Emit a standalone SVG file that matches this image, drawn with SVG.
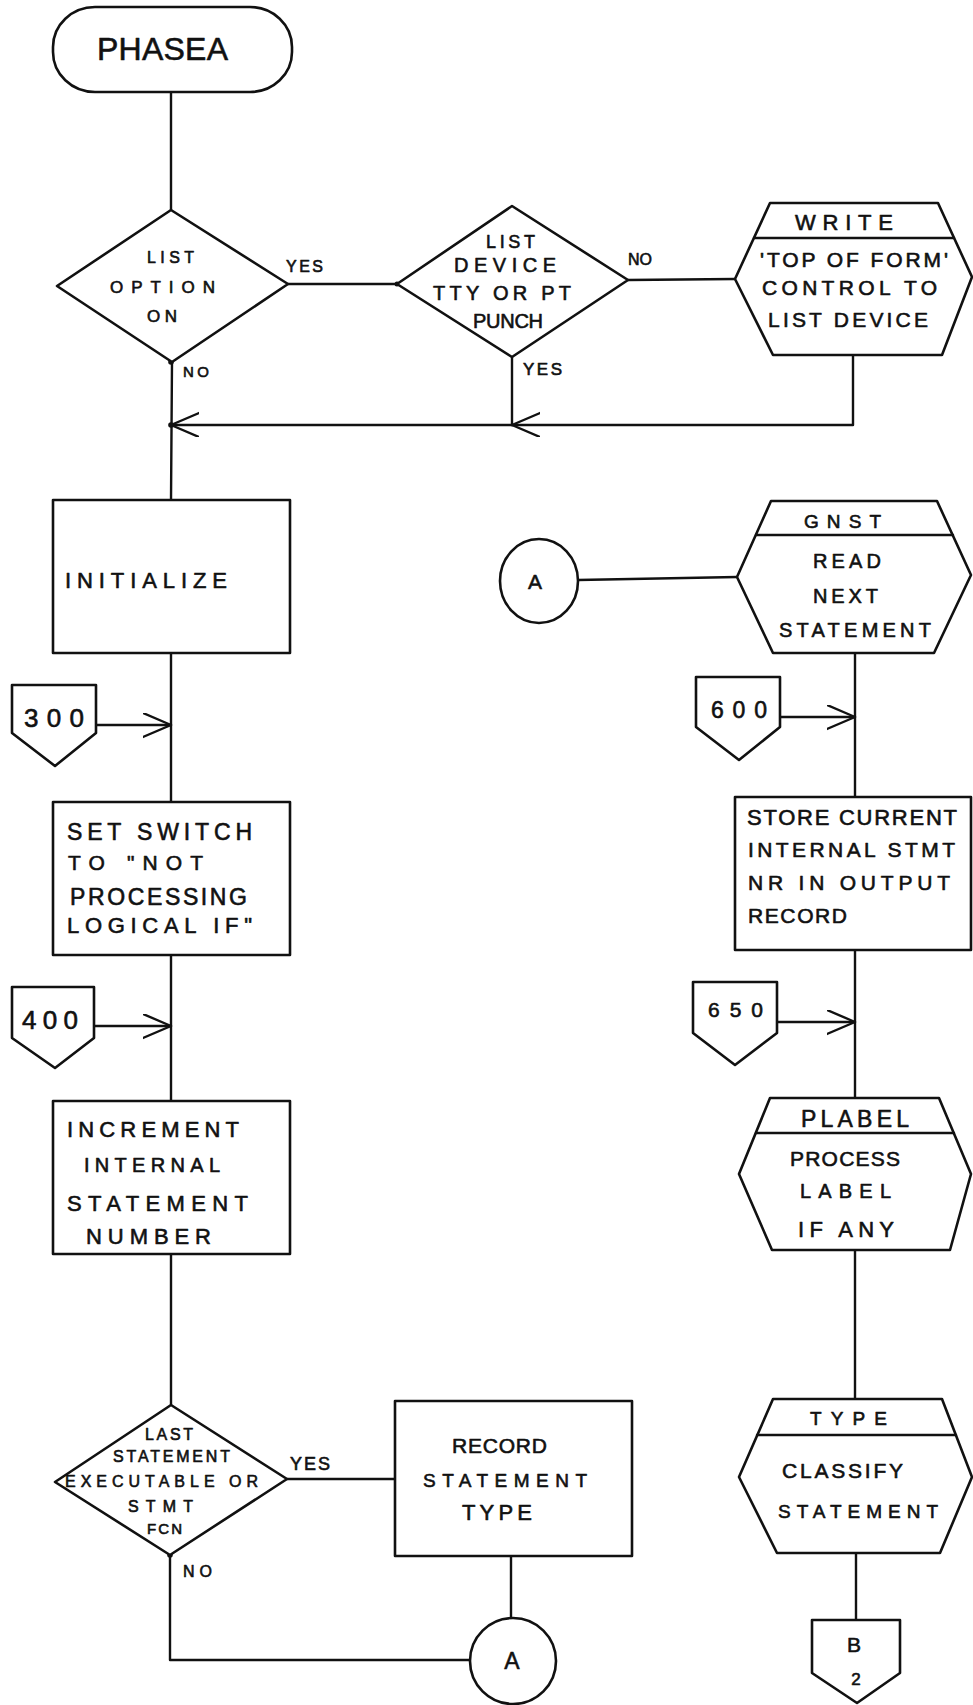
<svg xmlns="http://www.w3.org/2000/svg" width="973" height="1705" viewBox="0 0 973 1705">
  <style>
    .s { fill: #fff; stroke: #111; stroke-width: 2.6; stroke-linejoin: round; }
    .c { fill: none; stroke: #111; stroke-width: 2.4; stroke-linecap: round; stroke-linejoin: round; }
    .t { font-family: "Liberation Sans", Arial, sans-serif; fill: #111; stroke: #111; stroke-width: 0.6; stroke-linejoin: round; }
    .m { text-anchor: middle; }
    .dot { fill: #111; }
  </style>
  <defs>
    <!-- open chevron arrowhead used on every flow arrow -->
    <marker id="chev" markerUnits="userSpaceOnUse" markerWidth="32" markerHeight="28" refX="28" refY="12" orient="auto">
      <path d="M0,0 L28,12 L0,24" fill="none" stroke="#111" stroke-width="2.4" stroke-linecap="round" stroke-linejoin="round"/>
    </marker>
  </defs>

  <rect width="973" height="1705" fill="#fff"/>

  <!-- connectors -->
  <g id="connectors">
    <path class="c" d="M171,92 L171,210"/>
    <path class="c" d="M288,284 L397,284"/>
    <path class="c" d="M628,280 L735,279"/>
    <path class="c" d="M853,355 L853,425 L512,425" marker-end="url(#chev)"/>
    <path class="c" d="M512,357 L512,425"/>
    <path class="c" d="M512,425 L171,425" marker-end="url(#chev)"/>
    <path class="c" d="M172,362 L171,500"/>
    <path class="c" d="M171,653 L171,802"/>
    <path class="c" d="M171,955 L171,1101"/>
    <path class="c" d="M171,1254 L171,1405"/>
    <path class="c" d="M170,1555 L170,1660 L470,1660"/>
    <path class="c" d="M287,1479 L395,1479"/>
    <path class="c" d="M511,1556 L511,1618"/>
    <path class="c" d="M578,580 L737,577"/>
    <path class="c" d="M855,653 L855,797"/>
    <path class="c" d="M855,950 L855,1098"/>
    <path class="c" d="M855,1250 L855,1399"/>
    <path class="c" d="M856,1553 L856,1620"/>
    <path class="c" d="M96,725 L171,725" marker-end="url(#chev)"/>
    <path class="c" d="M94,1026 L171,1026" marker-end="url(#chev)"/>
    <path class="c" d="M780,717 L855,717" marker-end="url(#chev)"/>
    <path class="c" d="M777,1022 L855,1022" marker-end="url(#chev)"/>
    <circle class="dot" cx="171" cy="362" r="2.8"/>
    <circle class="dot" cx="171" cy="425" r="2.8"/>
    <circle class="dot" cx="397" cy="284" r="2.5"/>
    <circle class="dot" cx="170" cy="1555" r="2.8"/>
    <text class="t" x="286" y="272" font-size="16" textLength="37" lengthAdjust="spacing">YES</text>
    <text class="t" x="183" y="377" font-size="15" textLength="26" lengthAdjust="spacing">NO</text>
    <text class="t" x="628" y="265" font-size="16" textLength="24" lengthAdjust="spacing">NO</text>
    <text class="t" x="523" y="375" font-size="17" textLength="39" lengthAdjust="spacing">YES</text>
    <text class="t" x="290" y="1470" font-size="18" textLength="40" lengthAdjust="spacing">YES</text>
    <text class="t" x="183" y="1577" font-size="16" textLength="29" lengthAdjust="spacing">NO</text>
  </g>

  <!-- start terminal -->
  <g id="phasea">
    <rect class="s" x="53" y="7" width="239" height="85" rx="42" ry="40"/>
    <text class="t" x="97" y="60" font-size="32" textLength="131" lengthAdjust="spacing">PHASEA</text>
  </g>

  <g id="list-option">
    <polygon class="s" points="171,210 288,284 172,362 57,286"/>
    <text class="t" x="147" y="263" font-size="16" textLength="47" lengthAdjust="spacing">LIST</text>
    <text class="t" x="110" y="293" font-size="17" textLength="105" lengthAdjust="spacing">OPTION</text>
    <text class="t" x="147" y="322" font-size="17" textLength="30" lengthAdjust="spacing">ON</text>
  </g>

  <g id="list-device">
    <polygon class="s" points="512,206 628,280 512,357 397,284"/>
    <text class="t" x="486" y="248" font-size="18" textLength="49" lengthAdjust="spacing">LIST</text>
    <text class="t" x="454" y="272" font-size="20" textLength="102" lengthAdjust="spacing">DEVICE</text>
    <text class="t" x="433" y="300" font-size="20" textLength="138" lengthAdjust="spacing">TTY OR PT</text>
    <text class="t" x="473" y="328" font-size="20" textLength="70" lengthAdjust="spacing">PUNCH</text>
  </g>

  <g id="write">
    <polygon class="s" points="770,203 938,203 972,277 942,355 773,355 735,279"/>
    <line class="c" x1="754" y1="238" x2="954" y2="238"/>
    <text class="t" x="795" y="230" font-size="22" textLength="98" lengthAdjust="spacing">WRITE</text>
    <text class="t" x="760" y="267" font-size="21" textLength="188" lengthAdjust="spacing">'TOP OF FORM'</text>
    <text class="t" x="762" y="295" font-size="21" textLength="175" lengthAdjust="spacing">CONTROL TO</text>
    <text class="t" x="768" y="327" font-size="21" textLength="160" lengthAdjust="spacing">LIST DEVICE</text>
  </g>

  <g id="initialize">
    <rect class="s" x="53" y="500" width="237" height="153"/>
    <text class="t" x="65" y="588" font-size="22" textLength="162" lengthAdjust="spacing">INITIALIZE</text>
  </g>

  <g id="conn-a-in">
    <ellipse class="s" cx="539" cy="581" rx="39" ry="42"/>
    <text class="t m" x="535" y="589" font-size="21">A</text>
  </g>

  <g id="gnst">
    <polygon class="s" points="771,501 937,501 971,575 934,653 773,653 737,577"/>
    <line class="c" x1="756" y1="535" x2="953" y2="535"/>
    <text class="t" x="804" y="528" font-size="19" textLength="77" lengthAdjust="spacing">GNST</text>
    <text class="t" x="813" y="568" font-size="20" textLength="68" lengthAdjust="spacing">READ</text>
    <text class="t" x="813" y="603" font-size="20" textLength="65" lengthAdjust="spacing">NEXT</text>
    <text class="t" x="779" y="637" font-size="20" textLength="152" lengthAdjust="spacing">STATEMENT</text>
  </g>

  <g id="entry-300">
    <polygon class="s" points="12,685 96,685 96,733 55,766 12,733"/>
    <text class="t" x="24" y="727" font-size="26" textLength="60" lengthAdjust="spacing">300</text>
  </g>

  <g id="entry-600">
    <polygon class="s" points="696,677 780,677 780,727 739,760 696,727"/>
    <text class="t" x="711" y="718" font-size="23" textLength="56" lengthAdjust="spacing">600</text>
  </g>

  <g id="set-switch">
    <rect class="s" x="53" y="802" width="237" height="153"/>
    <text class="t" x="67" y="840" font-size="23" textLength="185" lengthAdjust="spacing">SET SWITCH</text>
    <text class="t" x="68" y="870" font-size="21" textLength="135" lengthAdjust="spacing">TO "NOT</text>
    <text class="t" x="70" y="905" font-size="23" textLength="177" lengthAdjust="spacing">PROCESSING</text>
    <text class="t" x="67" y="933" font-size="22" textLength="185" lengthAdjust="spacing">LOGICAL IF"</text>
  </g>

  <g id="store-current">
    <rect class="s" x="735" y="797" width="236" height="153"/>
    <text class="t" x="747" y="825" font-size="22" textLength="210" lengthAdjust="spacing">STORE CURRENT</text>
    <text class="t" x="748" y="857" font-size="21" textLength="207" lengthAdjust="spacing">INTERNAL STMT</text>
    <text class="t" x="748" y="890" font-size="21" textLength="202" lengthAdjust="spacing">NR IN OUTPUT</text>
    <text class="t" x="748" y="923" font-size="21" textLength="99" lengthAdjust="spacing">RECORD</text>
  </g>

  <g id="entry-400">
    <polygon class="s" points="12,987 94,987 94,1038 55,1068 12,1038"/>
    <text class="t" x="22" y="1029" font-size="26" textLength="56" lengthAdjust="spacing">400</text>
  </g>

  <g id="entry-650">
    <polygon class="s" points="693,982 777,982 777,1033 735,1065 693,1033"/>
    <text class="t" x="708" y="1017" font-size="21" textLength="55" lengthAdjust="spacing">650</text>
  </g>

  <g id="increment">
    <rect class="s" x="53" y="1101" width="237" height="153"/>
    <text class="t" x="67" y="1137" font-size="22" textLength="172" lengthAdjust="spacing">INCREMENT</text>
    <text class="t" x="84" y="1172" font-size="20" textLength="136" lengthAdjust="spacing">INTERNAL</text>
    <text class="t" x="67" y="1211" font-size="22" textLength="181" lengthAdjust="spacing">STATEMENT</text>
    <text class="t" x="86" y="1244" font-size="22" textLength="125" lengthAdjust="spacing">NUMBER</text>
  </g>

  <g id="plabel">
    <polygon class="s" points="770,1098 939,1098 971,1174 950,1250 772,1250 739,1174"/>
    <line class="c" x1="756" y1="1133" x2="954" y2="1133"/>
    <text class="t" x="801" y="1127" font-size="23" textLength="108" lengthAdjust="spacing">PLABEL</text>
    <text class="t" x="790" y="1166" font-size="21" textLength="110" lengthAdjust="spacing">PROCESS</text>
    <text class="t" x="800" y="1198" font-size="20" textLength="91" lengthAdjust="spacing">LABEL</text>
    <text class="t" x="798" y="1237" font-size="22" textLength="96" lengthAdjust="spacing">IF ANY</text>
  </g>

  <g id="last-statement">
    <polygon class="s" points="171,1405 287,1479 170,1555 55,1482"/>
    <text class="t" x="145" y="1440" font-size="16" textLength="48" lengthAdjust="spacing">LAST</text>
    <text class="t" x="113" y="1462" font-size="16" textLength="117" lengthAdjust="spacing">STATEMENT</text>
    <text class="t" x="65" y="1487" font-size="16" textLength="193" lengthAdjust="spacing">EXECUTABLE OR</text>
    <text class="t" x="128" y="1512" font-size="16" textLength="65" lengthAdjust="spacing">STMT</text>
    <text class="t" x="147" y="1534" font-size="15" textLength="35" lengthAdjust="spacing">FCN</text>
  </g>

  <g id="record-type">
    <rect class="s" x="395" y="1401" width="237" height="155"/>
    <text class="t" x="452" y="1453" font-size="21" textLength="95" lengthAdjust="spacing">RECORD</text>
    <text class="t" x="423" y="1487" font-size="19" textLength="164" lengthAdjust="spacing">STATEMENT</text>
    <text class="t" x="462" y="1520" font-size="22" textLength="70" lengthAdjust="spacing">TYPE</text>
  </g>

  <g id="conn-a-out">
    <circle class="s" cx="513" cy="1661" r="43"/>
    <text class="t m" x="512" y="1669" font-size="23">A</text>
  </g>

  <g id="type">
    <polygon class="s" points="773,1399 942,1399 972,1477 940,1553 777,1553 739,1477"/>
    <line class="c" x1="757" y1="1435" x2="956" y2="1435"/>
    <text class="t" x="810" y="1425" font-size="19" textLength="77" lengthAdjust="spacing">TYPE</text>
    <text class="t" x="782" y="1478" font-size="21" textLength="121" lengthAdjust="spacing">CLASSIFY</text>
    <text class="t" x="778" y="1518" font-size="19" textLength="160" lengthAdjust="spacing">STATEMENT</text>
  </g>

  <g id="exit-b2">
    <polygon class="s" points="812,1620 900,1620 900,1673 857,1703 812,1673"/>
    <text class="t m" x="854" y="1652" font-size="21">B</text>
    <text class="t m" x="856" y="1685" font-size="17">2</text>
  </g>
</svg>
